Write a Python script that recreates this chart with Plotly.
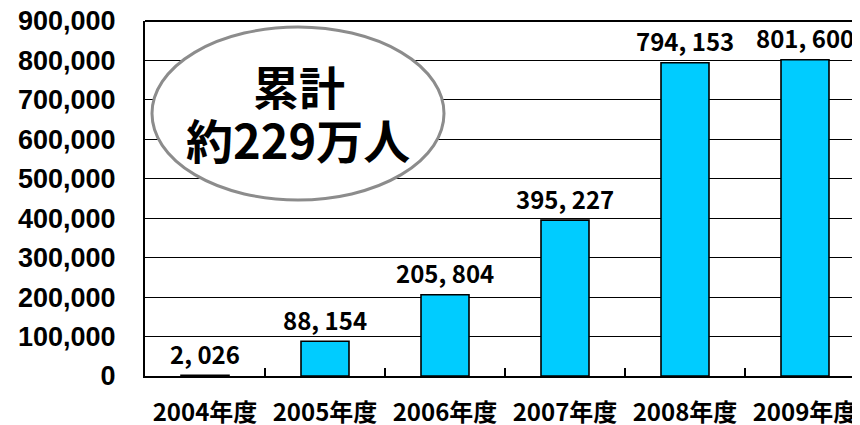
import plotly.graph_objects as go

categories = ["2004年度", "2005年度", "2006年度", "2007年度", "2008年度", "2009年度"]
values = [2026, 88154, 205804, 395227, 794153, 801600]
y_ticks = [0, 100000, 200000, 300000, 400000, 500000, 600000, 700000, 800000, 900000]
callout_lines = ["累計", "約229万人"]

JP = "Noto Sans CJK JP"
LAT = "Liberation Sans, Arial, sans-serif"

# page body has an 8px default margin; compensate so the figure fills the 860x425 window
OFF = 8
W, H = 860 - OFF, 425 - OFF
L, T, B = 145 - OFF, 21 - OFF, 49
PW, PH = W - L, H - T - B

def px_x(x):
    return (x - 145) / PW

def px_y(y):
    return (376 - y) / PH

fig = go.Figure()
fig.add_trace(go.Bar(
    x=categories, y=values, width=0.4,
    marker=dict(color="#00CCFF", line=dict(color="#000000", width=1.6)),
    hoverinfo="skip",
))

for c, v in zip(categories, values):
    fig.add_annotation(
        x=c, y=v, xref="x", yref="y",
        text=f"{v:,}".replace(",", ", "),
        showarrow=False, yanchor="middle", yshift=22,
        font=dict(family=JP, size=24, color="#000000", weight="bold"),
    )

fig.add_shape(type="circle", xref="paper", yref="paper",
              x0=px_x(152), x1=px_x(444), y0=px_y(200), y1=px_y(27),
              line=dict(color="#8c8c8c", width=3), fillcolor="#ffffff", layer="above")

fig.add_annotation(x=px_x(299), y=px_y(85), xref="paper", yref="paper",
                   text=callout_lines[0], showarrow=False,
                   xanchor="center", yanchor="middle",
                   font=dict(family=JP, size=46, color="#000000", weight="bold"))
fig.add_annotation(x=px_x(298), y=px_y(138), xref="paper", yref="paper",
                   text=callout_lines[1], showarrow=False,
                   xanchor="center", yanchor="middle",
                   font=dict(family=JP, size=47, color="#000000", weight="bold"))

# top border of the plot area (the 900,000 gridline)
fig.add_shape(type="line", xref="paper", yref="paper", x0=0, x1=1, y0=1, y1=1,
              line=dict(color="#000000", width=2), layer="below")

fig.update_layout(
    width=W, height=H,
    margin=dict(l=L, r=0, t=T, b=B, pad=0),
    paper_bgcolor="#ffffff", plot_bgcolor="#ffffff",
    showlegend=False,
)
fig.update_xaxes(
    type="category", range=[-0.5, -0.5 + PW / 120], automargin=False,
    showline=True, linecolor="#000000", linewidth=2,
    ticks="inside", tickson="boundaries", ticklen=8, tickwidth=1.5, tickcolor="#000000",
    showgrid=False, ticklabelstandoff=14, ticklabeloverflow="allow",
    tickfont=dict(family=JP, size=24, color="#000000", weight="bold"),
)
fig.update_yaxes(
    range=[0, 900000], tickvals=y_ticks, tickformat=",", automargin=False,
    showline=True, linecolor="#000000", linewidth=2,
    showgrid=True, gridcolor="#000000", gridwidth=1.3, zeroline=False,
    ticks="", ticklabelstandoff=22, ticklabeloverflow="allow",
    tickfont=dict(family=LAT, size=27, color="#000000", weight="bold"),
)

fig.write_html("out.html")
